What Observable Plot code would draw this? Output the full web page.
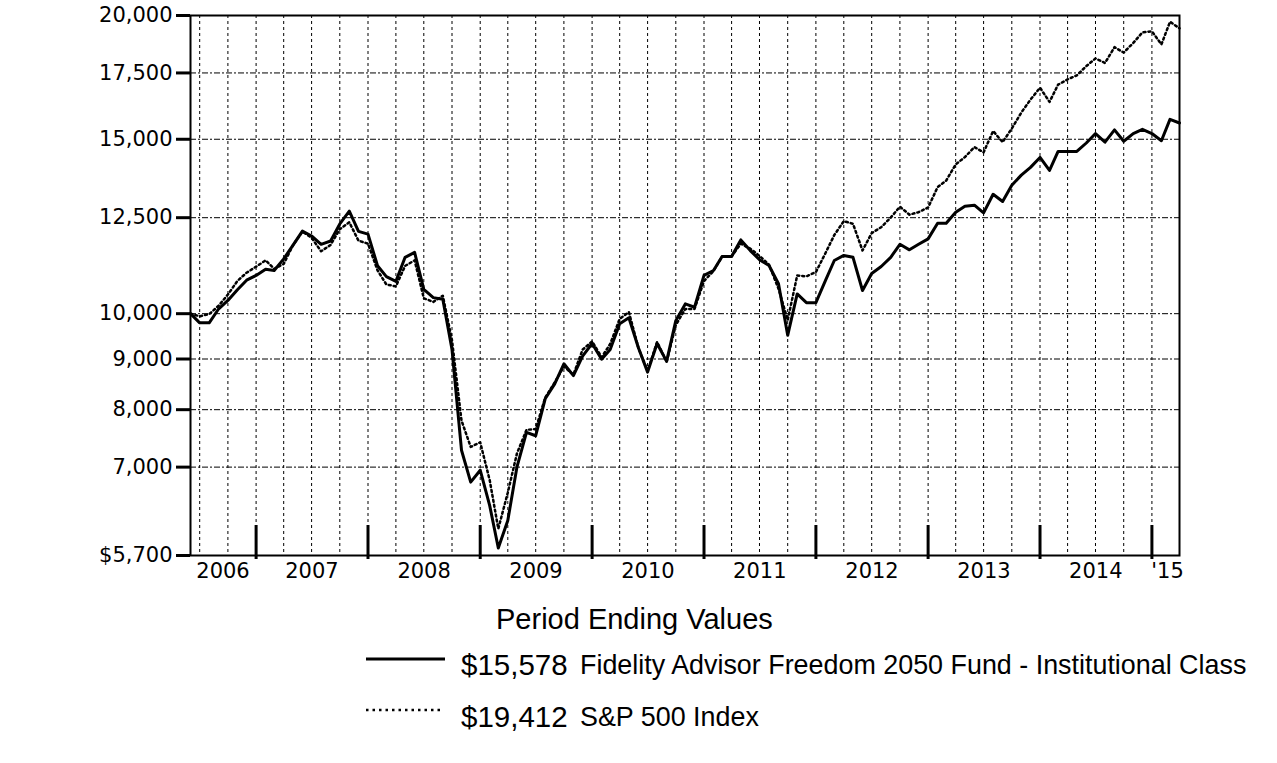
<!DOCTYPE html>
<html>
<head>
<meta charset="utf-8">
<script src="https://cdn.jsdelivr.net/npm/d3@7"></script>
<script src="https://cdn.jsdelivr.net/npm/@observablehq/plot@0.6"></script>
<style>
  html, body { margin: 0; padding: 0; background: #fff; }
  #wrap { position: relative; width: 1277px; height: 763px; background: #fff; }
  #chart { position: absolute; left: 0; top: 0; }
  .t { position: absolute; font-family: "Liberation Sans", Arial, sans-serif; font-size: 28px; line-height: 28px; color: #000; white-space: nowrap; }
  .v { font-size: 29.5px; line-height: 29.5px; }
  .n { transform: scaleX(0.96); transform-origin: 0 0; }
  .sample { position: absolute; }
</style>
</head>
<body>
<div id="wrap">
  <div id="chart"></div>
  <div class="t" id="title" style="left:496px; top:605px; font-size:29px; line-height:29px;">Period Ending Values</div>
  <svg class="sample" style="left:366px; top:650px;" width="82" height="18"><line x1="0" x2="79" y1="9" y2="9" stroke="#000" stroke-width="3"/></svg>
  <div class="t v" style="left:461px; top:650px;" id="v1"></div>
  <div class="t n" style="left:580px; top:651px;" id="n1"></div>
  <svg class="sample" style="left:366px; top:701px;" width="82" height="18"><line x1="0" x2="76" y1="9" y2="9" stroke="#000" stroke-width="2.5" stroke-dasharray="2.5,4"/></svg>
  <div class="t v" style="left:461px; top:702px;" id="v2"></div>
  <div class="t n" style="left:580px; top:703px;" id="n2"></div>
</div>
<script>
// Series names and ending values
const seriesNames = ["Fidelity Advisor Freedom 2050 Fund - Institutional Class", "S&P 500 Index"];
const endingValues = ["$15,578", "$19,412"];

// Month-end values, May 2006 through March 2015 (107 months)
const fund = [
  10000, 9790, 9790, 10115, 10312, 10570, 10810, 10930,
  11090, 11056, 11360, 11720, 12115, 11980, 11750, 11840, 12320, 12690, 12110, 12030,
  11180, 10900, 10780, 11400, 11530, 10580, 10380, 10340, 9200, 7280, 6760, 6950,
  6400, 5800, 6184, 7005, 7590, 7530, 8205, 8495, 8900, 8660, 9060, 9330,
  8995, 9200, 9770, 9905, 9240, 8730, 9330, 8950, 9840, 10230, 10150, 10930,
  11056, 11420, 11420, 11870, 11580, 11335, 11185, 10720, 9510, 10470, 10260, 10260,
  10800, 11316, 11450, 11400, 10554, 10980, 11160, 11400, 11750, 11600, 11750, 11900,
  12340, 12340, 12660, 12840, 12870, 12640, 13200, 12980, 13480, 13800, 14050, 14380,
  13950, 14580, 14580, 14580, 14870, 15200, 14900, 15330, 14930, 15200, 15350, 15200,
  14950, 15710, 15578
];
const spx = [
  10000, 9940, 9990, 10190, 10455, 10790, 11000, 11155,
  11320, 11100, 11226, 11723, 12100, 11930, 11561, 11733, 12172, 12366, 11849, 11767,
  11061, 10701, 10656, 11174, 11320, 10365, 10278, 10427, 9400, 7800, 7337, 7415,
  6790, 6066, 6598, 7229, 7633, 7649, 8227, 8524, 8843, 8678, 9198, 9376,
  9038, 9319, 9881, 10037, 9235, 8752, 9365, 8942, 9741, 10111, 10112, 10788,
  11044, 11422, 11427, 11765, 11632, 11438, 11206, 10597, 9852, 10929, 10906, 11016,
  11509, 12006, 12401, 12323, 11582, 12059, 12227, 12502, 12825, 12588, 12661, 12800,
  13420, 13628, 14150, 14390, 14730, 14550, 15290, 14900, 15380, 15960, 16450, 16910,
  16360, 17030, 17240, 17400, 17780, 18100, 17910, 18580, 18350, 18760, 19230, 19280,
  18700, 19710, 19412
];

// Axis tick values and labels
const yTicks = [5700, 7000, 8000, 9000, 10000, 12500, 15000, 17500, 20000];
const yGrid = [7000, 8000, 9000, 10000, 12500, 15000, 17500];
const yearLabels = ["2006", "2007", "2008", "2009", "2010", "2011", "2012", "2013", "2014", "'15"];
const yearLabelDates = ["2006-09-14", "2007-07-01", "2008-07-01", "2009-07-01", "2010-07-01", "2011-07-01", "2012-07-01", "2013-07-01", "2014-07-01", "2015-02-20"];
const yearEndDates = ["2006-12-31", "2007-12-31", "2008-12-31", "2009-12-31", "2010-12-31", "2011-12-31", "2012-12-31", "2013-12-31", "2014-12-31"];

// month-end dates
const dates = d3.utcMonth.range(new Date(Date.UTC(2006, 5, 1)), new Date(Date.UTC(2015, 3, 2)))
  .map(d => d3.utcDay.offset(d, -1));
const quarterEnds = d3.utcMonth.range(new Date(Date.UTC(2006, 6, 1)), new Date(Date.UTC(2015, 3, 2)), 3)
  .map(d => d3.utcDay.offset(d, -1));

const data = dates.map((d, i) => ({date: d, fund: fund[i], spx: spx[i]}));
const labels = yearLabels.map((l, i) => ({date: new Date(yearLabelDates[i]), label: l}));
const yearEnds = yearEndDates.map(s => new Date(s));

const fmt = d3.format(",");
const chart = Plot.plot({
  width: 1277,
  height: 600,
  marginLeft: 190,
  marginRight: 98,
  marginTop: 15,
  marginBottom: 45,
  style: {fontFamily: "'DejaVu Sans', sans-serif", fontSize: "21px", color: "#000", background: "#fff", overflow: "visible"},
  x: {type: "utc", domain: [dates[0], dates[dates.length - 1]], axis: null},
  y: {type: "log", domain: [5700, 20000], axis: null},
  marks: [
    Plot.gridY(yGrid, {stroke: "#000", strokeOpacity: 1, strokeWidth: 1, strokeDasharray: "6,2,2,2"}),
    Plot.gridX(quarterEnds, {stroke: "#000", strokeOpacity: 1, strokeWidth: 1, strokeDasharray: "3,3"}),
    Plot.tickX(yearEnds, {x: d => d, stroke: "#000", strokeWidth: 3, insetTop: 510, insetBottom: -4}),
    Plot.axisY(yTicks, {tickSize: 14, tickPadding: 4, strokeWidth: 3, fontSize: 21, label: null,
      tickFormat: d => (d === 5700 ? "$" : "") + fmt(d)}),
    Plot.text(labels, {x: "date", text: "label", frameAnchor: "bottom", dy: 22, fontSize: 21}),
    Plot.lineY(data, {x: "date", y: "spx", stroke: "#000", strokeWidth: 2.5, strokeDasharray: "2,3"}),
    Plot.lineY(data, {x: "date", y: "fund", stroke: "#000", strokeWidth: 3}),
    Plot.frame({stroke: "#000", strokeWidth: 2})
  ]
});
document.getElementById("chart").appendChild(chart);
document.getElementById("v1").textContent = endingValues[0];
document.getElementById("n1").textContent = seriesNames[0];
document.getElementById("v2").textContent = endingValues[1];
document.getElementById("n2").textContent = seriesNames[1];
</script>
</body>
</html>
